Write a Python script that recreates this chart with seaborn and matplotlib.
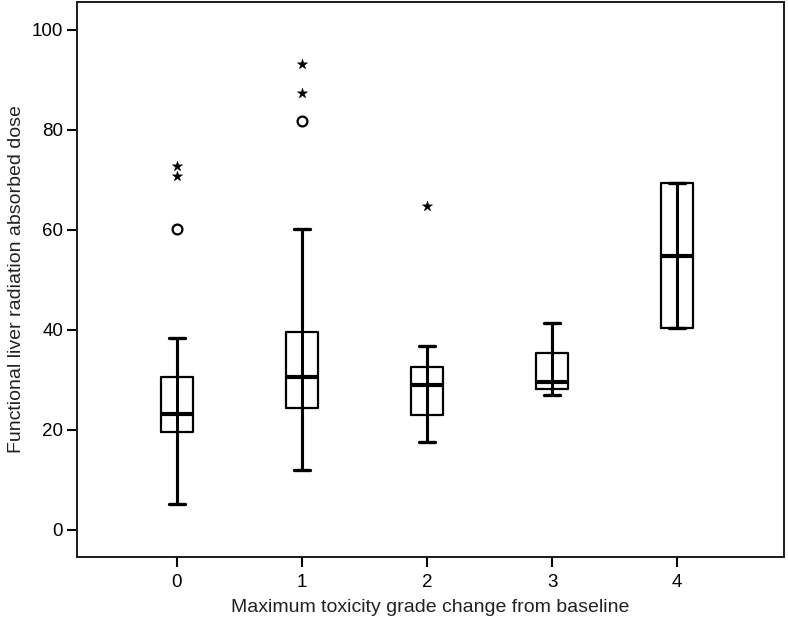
import numpy as np
import pandas as pd
import matplotlib
matplotlib.use("Agg")
import matplotlib.pyplot as plt
import seaborn as sns

# ---- data ----
groups = ["0", "1", "2", "3", "4"]
lower_whisker = [5.1, 12.0, 17.5, 27.0, 40.3]
q1 = [19.6, 24.3, 23.0, 28.2, 40.3]
median = [23.1, 30.6, 29.0, 29.5, 54.8]
q3 = [30.6, 39.5, 32.5, 35.4, 69.3]
upper_whisker = [38.3, 60.1, 36.7, 41.3, 69.3]

circle_group = ["0", "1"]
circle_value = [60.1, 81.7]
star_group = ["0", "0", "1", "1", "2"]
star_value = [70.7, 72.8, 87.3, 93.2, 64.7]

x_label = "Maximum toxicity grade change from baseline"
y_label = "Functional liver radiation absorbed dose"
y_ticks = [0, 20, 40, 60, 80, 100]

# ---- build table: five-number summary per group ----
rows = []
for g, a, b, c, d, e in zip(groups, lower_whisker, q1, median, q3, upper_whisker):
    for v in (a, b, c, d, e):
        rows.append({"grade": g, "dose": v})
df = pd.DataFrame(rows)
circ = pd.DataFrame({"grade": circle_group, "dose": circle_value})
star = pd.DataFrame({"grade": star_group, "dose": star_value})

sns.set_theme(style="white")
plt.rcParams["font.family"] = ["Liberation Sans", "DejaVu Sans"]

fig = plt.figure(figsize=(7.88, 6.24), dpi=100)
ax = fig.add_axes([0.0977, 0.1074, 0.8973, 0.8894])

sns.boxplot(data=df, x="grade", y="dose", order=groups, whis=(0, 100),
            width=0.26, fill=False, color="black", linewidth=1.6,
            showfliers=False, ax=ax,
            medianprops=dict(color="black", linewidth=3),
            whiskerprops=dict(color="black", linewidth=2.2),
            capprops=dict(color="black", linewidth=2.4),
            boxprops=dict(color="black", linewidth=1.6),
            capwidths=0.135)

# whisker line passing through the box (SPSS style)
pos = np.arange(len(groups))
ax.vlines(pos, lower_whisker, upper_whisker, color="black", linewidth=2.2, zorder=3)

sns.scatterplot(data=circ, x="grade", y="dose", marker="o", s=50,
                facecolor="white", edgecolor="black", linewidth=1.6, ax=ax, zorder=4)
sns.scatterplot(data=star, x="grade", y="dose", marker="*", s=60,
                color="black", edgecolor="black", linewidth=0.3, ax=ax, zorder=4)

ax.set_xlim(-0.8, 4.856)
ax.set_ylim(-5.4, 105.6)
ax.set_yticks(y_ticks)
ax.set_xlabel(x_label, fontsize=14, color="#222222", labelpad=6)
ax.set_ylabel(y_label, fontsize=14, color="#222222", labelpad=5)
ax.tick_params(axis="both", which="both", direction="out", length=7, width=1.5,
               color="black", labelsize=13.5, labelcolor="black", bottom=True, left=True)
ax.tick_params(axis="y", pad=3)
ax.tick_params(axis="x", pad=5)
for sp in ax.spines.values():
    sp.set_color("#1a1a1a")
    sp.set_linewidth(1.4)
    sp.set_visible(True)

fig.savefig("out.png", dpi=100, facecolor="white")
